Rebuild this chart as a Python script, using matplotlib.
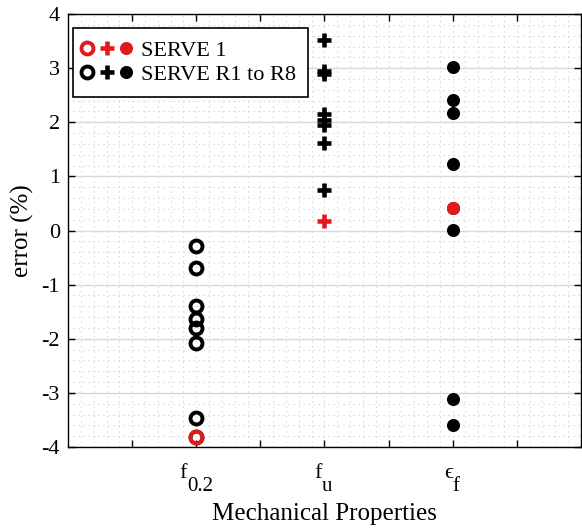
import matplotlib
matplotlib.use("Agg")
import matplotlib.pyplot as plt
from matplotlib.lines import Line2D
from matplotlib.legend_handler import HandlerTuple
from matplotlib.ticker import MultipleLocator, FixedLocator

plt.rcParams['font.family'] = ['Liberation Serif', 'DejaVu Serif']
plt.rcParams['axes.unicode_minus'] = False

# Property categories (main symbol, subscript) and their x positions
prop_main = ['f', 'f', '\u03f5']
prop_sub = ['0.2', 'u', 'f']
positions = [1, 2, 3]

# Percentage error of the reference run (SERVE 1)
serve1_f02 = [-3.82]
serve1_fu = [0.17]
serve1_ef = [0.41]

# Percentage error of runs R1..R8
r_f02 = [-0.28, -0.70, -1.40, -1.64, -1.80, -2.08, -3.47, -3.82]
r_fu = [3.52, 2.95, 2.90, 2.15, 2.05, 1.95, 1.62, 0.74]
r_ef = [3.02, 2.42, 2.18, 1.22, 0.41, 0.01, -3.12, -3.60]

red = '#e31a1c'
fig = plt.figure(figsize=(5.82, 5.28), dpi=100)
ax = fig.add_axes([0.117, 0.1534, 0.881, 0.82])

open_kw = dict(marker='o', ms=8.6, mfc='none', mew=2.8, ls='none')
plus_kw = dict(marker='+', ms=9.5, mew=3.3, ls='none')
fill_kw = dict(marker='o', ms=9.4, mew=0, ls='none')

ax.plot([positions[0]] * len(r_f02), r_f02, color='black', zorder=3, **open_kw)
ax.plot([positions[1]] * len(r_fu), r_fu, color='black', zorder=3, **plus_kw)
ax.plot([positions[2]] * len(r_ef), r_ef, color='black', zorder=3, **fill_kw)
ax.plot([positions[0]] * len(serve1_f02), serve1_f02, color=red, zorder=4, **open_kw)
ax.plot([positions[1]] * len(serve1_fu), serve1_fu, color=red, zorder=4, **plus_kw)
ax.plot([positions[2]] * len(serve1_ef), serve1_ef, color=red, zorder=4, **fill_kw)

ax.set_xlim(0, 4)
ax.set_ylim(-4, 4)

xt = [0.5, 1, 1.5, 2, 2.5, 3, 3.5]
ax.xaxis.set_major_locator(FixedLocator(xt))
ax.set_xticklabels([''] * len(xt))
ax.xaxis.set_minor_locator(MultipleLocator(0.1))
ax.yaxis.set_major_locator(MultipleLocator(1))
ax.yaxis.set_minor_locator(MultipleLocator(0.2))

ax.tick_params(which='major', direction='in', length=5, width=1, top=True, right=True,
               labelsize=16, pad=6)
ax.tick_params(which='minor', length=0)

# Category labels: symbol with a dropped subscript
junction = [-9.5, -2.7, 0.0]
xaxis_tf = ax.get_xaxis_transform()
for p, m, s, j in zip(positions, prop_main, prop_sub, junction):
    ax.annotate(m, xy=(p, 0), xycoords=xaxis_tf, xytext=(j, -31),
                textcoords='offset pixels', ha='right', va='baseline', fontsize=16)
    ax.annotate(s, xy=(p, 0), xycoords=xaxis_tf, xytext=(j, -44),
                textcoords='offset pixels', ha='left', va='baseline', fontsize=15)

dot = (0, (1, 3.5))
ax.grid(which='major', axis='y', color='#d8d8d8', lw=1.0, zorder=0)
ax.grid(which='major', axis='x', color='#cccccc', lw=0.8, ls=dot, zorder=0)
ax.grid(which='minor', axis='both', color='#cccccc', lw=0.8, ls=dot, zorder=0)
ax.set_axisbelow(True)
for sp in ax.spines.values():
    sp.set_linewidth(1.0)

ax.set_xlabel('Mechanical Properties', fontsize=18)
ax.xaxis.set_label_coords(0.5, -0.13)
ax.set_ylabel('error (%)', fontsize=18, labelpad=5)

h1 = tuple(Line2D([], [], color=red, **kw) for kw in (open_kw, plus_kw, fill_kw))
h2 = tuple(Line2D([], [], color='black', **kw) for kw in (open_kw, plus_kw, fill_kw))
leg = ax.legend([h1, h2], ['SERVE 1', 'SERVE R1 to R8'],
                handler_map={tuple: HandlerTuple(ndivide=None, pad=0.72)},
                loc='upper left', bbox_to_anchor=(0.01, 0.968), borderaxespad=0,
                fontsize=16, handlelength=1.9, handletextpad=0.6, labelspacing=0.15,
                fancybox=False, framealpha=1, edgecolor='black', borderpad=0.55)
leg.get_frame().set_linewidth(1.2)

fig.savefig('out.png', dpi=100)
